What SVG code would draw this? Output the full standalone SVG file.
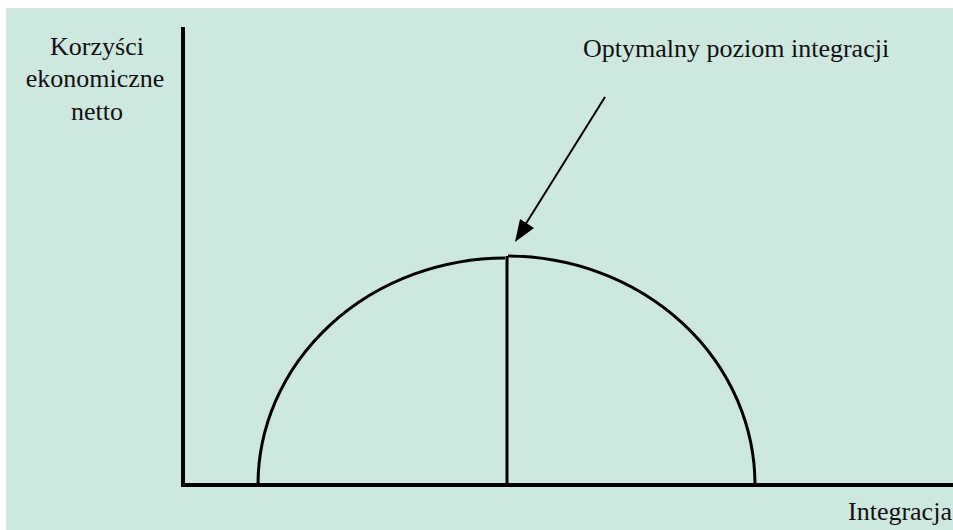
<svg xmlns="http://www.w3.org/2000/svg" width="953" height="530" viewBox="0 0 953 530">
<style>
text{font-family:"Liberation Serif","Times New Roman","DejaVu Serif",serif;font-size:26px;fill:#111}
.ax{stroke:#000;stroke-width:4;fill:none}
.cv{stroke:#000;stroke-width:3;fill:none}
</style>
<rect width="953" height="530" fill="#fff"/>
<rect x="6" y="8" width="947" height="522" fill="#cee8e0"/>
<g id="axes">
<path class="ax" d="M183,27 V485 H953"/>
</g>
<g id="curve">
<path class="cv" d="M258,485 A248,227 0 0 1 505,258"/>
<path class="cv" d="M508,256 A248,229 0 0 1 755,485"/>
<path class="cv" d="M507,256 V485"/>
</g>
<g id="labels" font-family="Liberation Serif, serif">
<text x="97" y="55" text-anchor="middle">Korzyści</text>
<text x="95" y="87" text-anchor="middle">ekonomiczne</text>
<text x="97" y="120" text-anchor="middle">netto</text>
<text x="583" y="57">Optymalny poziom integracji</text>
<text x="848" y="520">Integracja</text>
</g>
<g id="connectors">
<line x1="605" y1="97" x2="522" y2="230" stroke="#000" stroke-width="2"/>
<path d="M515,242 L520,219 L534,228 Z" fill="#000"/>
</g>
</svg>
